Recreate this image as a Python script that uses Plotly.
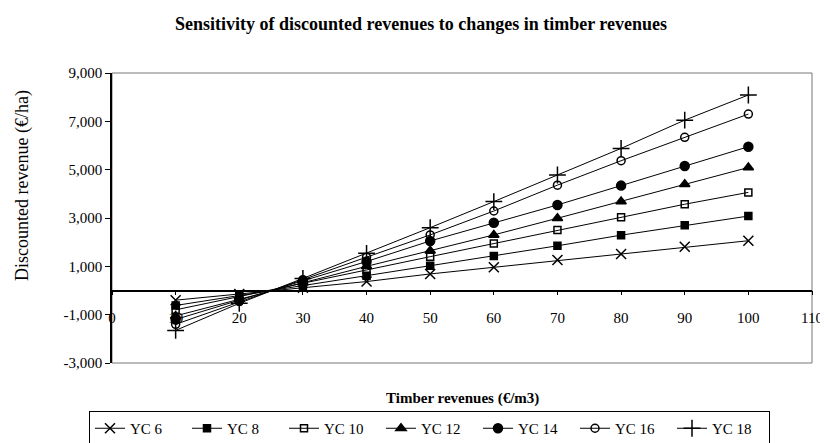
import plotly.graph_objects as go

timber_revenue = [10, 20, 30, 40, 50, 60, 70, 80, 90, 100]

series_names = ["YC 6", "YC 8", "YC 10", "YC 12", "YC 14", "YC 16", "YC 18"]
yc6 = [-400, -150, 120, 370, 685, 960, 1260, 1510, 1810, 2060]
yc8 = [-620, -210, 200, 610, 1020, 1430, 1850, 2290, 2700, 3080]
yc10 = [-800, -260, 290, 850, 1400, 1950, 2500, 3030, 3570, 4060]
yc12 = [-1050, -350, 320, 1000, 1650, 2300, 2990, 3680, 4400, 5090]
yc14 = [-1200, -400, 400, 1200, 2050, 2800, 3540, 4340, 5150, 5950]
yc16 = [-1400, -460, 450, 1380, 2300, 3290, 4360, 5370, 6340, 7300]
yc18 = [-1650, -530, 500, 1540, 2600, 3680, 4780, 5880, 7050, 8090]
all_series = [yc6, yc8, yc10, yc12, yc14, yc16, yc18]

x_ticks = [0, 10, 20, 30, 40, 50, 60, 70, 80, 90, 100, 110]
y_ticks = [-3000, -1000, 1000, 3000, 5000, 7000, 9000]
y_tick_labels = ["-3,000", "-1,000", "1,000", "3,000", "5,000", "7,000", "9,000"]

symbols = ["x-thin", "square", "square-open", "triangle-up", "circle", "circle-open", "cross-thin"]
sizes = [10, 7, 7, 9, 9, 8, 12]

SERIF = "Liberation Serif, Times New Roman, serif"

# The page body has an 8px default margin, so the figure is sized 8px smaller.
W, H = 820, 435

fig = go.Figure()
for name, vals, sym, sz in zip(series_names, all_series, symbols, sizes):
    fig.add_trace(go.Scatter(
        x=timber_revenue, y=vals, name=name, mode="lines+markers",
        line=dict(color="black", width=1),
        marker=dict(symbol=sym, size=sz, color="black",
                    line=dict(color="black", width=1.5)),
    ))

fig.update_layout(
    width=W, height=H,
    margin=dict(l=104, r=16, t=65, b=80, autoexpand=False),
    paper_bgcolor="white", plot_bgcolor="white",
    font=dict(family=SERIF, size=15, color="black"),
    title=dict(text="<b>Sensitivity of discounted revenues to changes in timber revenues</b>",
               x=413/W, xanchor="center", y=1-16/H, yanchor="middle",
               font=dict(family=SERIF, size=18, color="black")),
    showlegend=True,
    legend=dict(orientation="h", xref="container", yref="container",
                x=81/W, y=1-403/H, xanchor="left", yanchor="top",
                bordercolor="black", borderwidth=1, bgcolor="white",
                font=dict(family=SERIF, size=15, color="black"),
                entrywidth=52, entrywidthmode="pixels",
                itemwidth=30, tracegroupgap=0),
    xaxis=dict(range=[0, 110], tickvals=x_ticks, showgrid=False, zeroline=False,
               anchor="free", position=(363-290.5)/290, automargin=False,
               showline=True, linecolor="black", linewidth=1.5,
               ticks="outside", ticklen=4, tickcolor="black",
               ticklabelstandoff=10,
               tickfont=dict(family=SERIF, size=15)),
    yaxis=dict(range=[-3000, 9000], tickvals=y_ticks, ticktext=y_tick_labels,
               showgrid=False, zeroline=False, automargin=False,
               showline=True, linecolor="black", linewidth=1.5,
               ticks="outside", ticklen=5, tickcolor="black",
               tickfont=dict(family=SERIF, size=15)),
)

# plot frame (top, right, bottom)
fig.add_shape(type="rect", xref="paper", yref="paper", x0=0, x1=1, y0=0, y1=1,
              line=dict(color="#777777", width=1), layer="below")

fig.add_annotation(text="Discounted revenue (€/ha)", xref="paper", yref="paper",
                   x=(14-104)/700, y=(355-178)/290, xanchor="center", yanchor="middle",
                   textangle=-90, showarrow=False,
                   font=dict(family=SERIF, size=18, color="black"))

fig.add_annotation(text="<b>Timber revenues (€/m3)</b>", xref="paper", yref="paper",
                   x=0.5, y=(355-390)/290, xanchor="center", yanchor="middle",
                   showarrow=False, font=dict(family=SERIF, size=15, color="black"))

fig.write_html("out.html")
